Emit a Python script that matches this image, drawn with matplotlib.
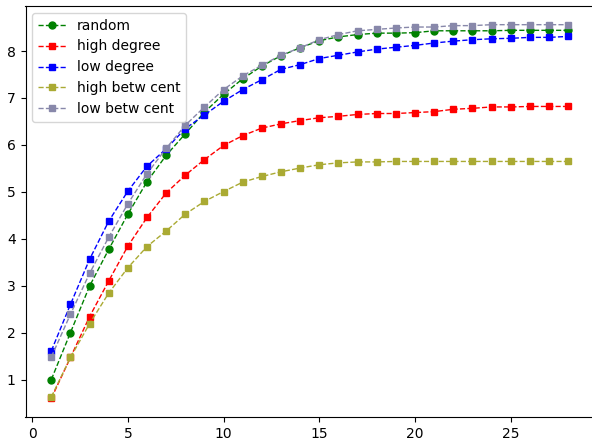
import matplotlib
matplotlib.use("Agg")
import matplotlib.pyplot as plt

x = list(range(1, 29))

random_vals = [1.01, 2.01, 3.00, 3.78, 4.53, 5.22, 5.78, 6.24, 6.70, 7.08,
               7.41, 7.68, 7.90, 8.07, 8.22, 8.30, 8.35, 8.38, 8.38, 8.39,
               8.43, 8.43, 8.43, 8.43, 8.44, 8.44, 8.44, 8.44]
high_degree = [0.61, 1.48, 2.35, 3.11, 3.85, 4.46, 4.98, 5.36, 5.69, 5.99,
               6.20, 6.36, 6.45, 6.52, 6.58, 6.61, 6.65, 6.67, 6.67, 6.69,
               6.71, 6.76, 6.78, 6.81, 6.81, 6.82, 6.82, 6.82]
low_degree = [1.62, 2.61, 3.57, 4.38, 5.02, 5.55, 5.92, 6.35, 6.64, 6.93,
              7.18, 7.39, 7.61, 7.71, 7.84, 7.91, 7.98, 8.04, 8.08, 8.12,
              8.17, 8.21, 8.24, 8.26, 8.27, 8.29, 8.29, 8.31]
high_betw = [0.64, 1.48, 2.20, 2.85, 3.39, 3.84, 4.17, 4.53, 4.80, 5.01,
             5.21, 5.33, 5.43, 5.51, 5.58, 5.62, 5.64, 5.64, 5.65, 5.65,
             5.65, 5.65, 5.65, 5.65, 5.65, 5.65, 5.65, 5.65]
low_betw = [1.49, 2.40, 3.27, 4.04, 4.75, 5.39, 5.93, 6.42, 6.81, 7.18,
            7.47, 7.70, 7.91, 8.07, 8.24, 8.35, 8.43, 8.46, 8.49, 8.51,
            8.51, 8.54, 8.54, 8.56, 8.56, 8.56, 8.56, 8.56]

labels = ["random", "high degree", "low degree", "high betw cent", "low betw cent"]
series = [random_vals, high_degree, low_degree, high_betw, low_betw]
colors = ["green", "red", "blue", "#aaaa33", "#8888aa"]
markers = ["o", "s", "s", "s", "s"]

fig = plt.figure(figsize=(5.92, 4.41), dpi=100)
ax = fig.add_axes([25.5 / 592, (441 - 417) / 441, (594 - 25.5) / 592, (417 - 6) / 441])
for ys, lab, c, m in zip(series, labels, colors, markers):
    ax.plot(x, ys, linestyle="--", marker=m, color=c, label=lab, linewidth=1, markersize=5)
ax.legend(loc="upper left")
fig.savefig("out.png", dpi=100)
